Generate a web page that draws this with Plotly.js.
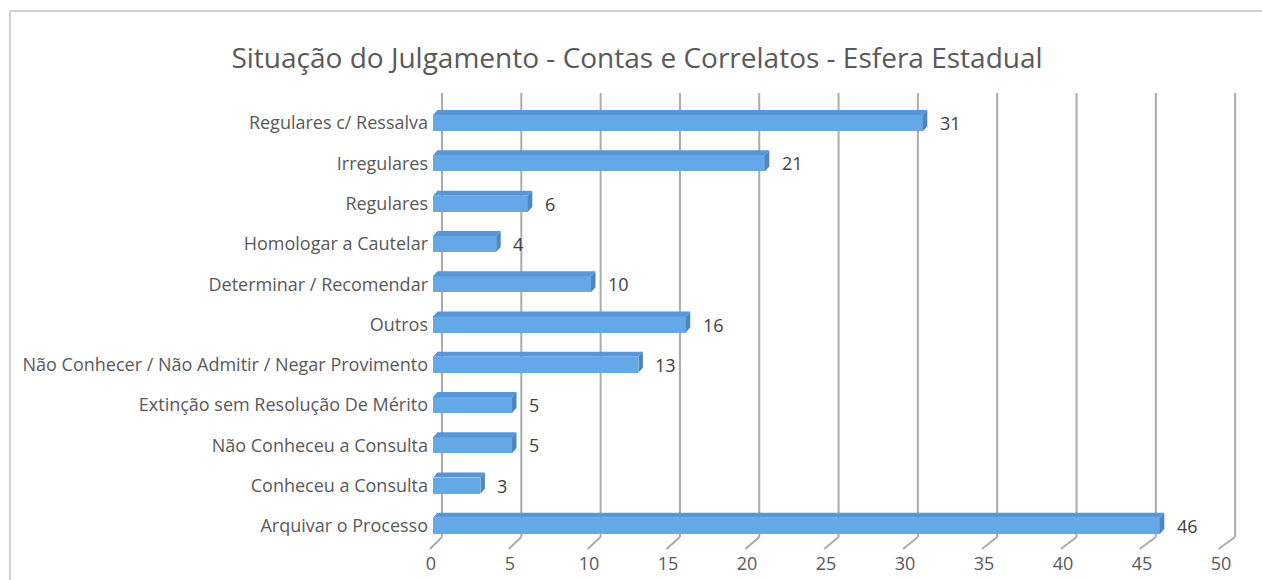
<!DOCTYPE html>
<html>
<head>
<meta charset="utf-8">
<script src="https://cdn.plot.ly/plotly-3.0.1.min.js"></script>
<style>html,body{margin:0;padding:0;background:#fff;overflow:hidden;}#chart{width:1262px;height:580px;position:relative;}</style>
</head>
<body>
<div id="chart"></div>
<script>
// Data (top to bottom as in the chart)
var categories = [
  "Regulares c/ Ressalva",
  "Irregulares",
  "Regulares",
  "Homologar a Cautelar",
  "Determinar / Recomendar",
  "Outros",
  "Não Conhecer / Não Admitir / Negar Provimento",
  "Extinção sem Resolução De Mérito",
  "Não Conheceu a Consulta",
  "Conheceu a Consulta",
  "Arquivar o Processo"
];
var values = [31, 21, 6, 4, 10, 16, 13, 5, 5, 3, 46];
var xTicks = [0, 5, 10, 15, 20, 25, 30, 35, 40, 45, 50];
var chartTitle = "Situação do Julgamento - Contas e Correlatos - Esfera Estadual";

// Geometry helpers (pixel layout)
var W = 1262, H = 580;
var mL = 433, mR = 39, mT = 103, mB = 34;
var pw = W - mL - mR, ph = H - mT - mB;
var xMax = 50;
var pxPerUnit = pw / xMax;
var pxPerCat = ph / categories.length;
function px2paperX(px){ return (px - mL) / pw; }
function py2paperY(py){ return (H - mB - py) / ph; }

var FONT = '"Open Sans", "Noto Sans", sans-serif';

var idx = categories.map(function(_, i){ return i; });
var half = 0.2;              // half bar thickness (category units)
var dx = 4.5 / pxPerUnit;    // depth offset in x data units
var dy = 5 / pxPerCat;       // depth offset in y category units

// top faces and end faces polygons derived from values
var topX = [], topY = [], endX = [], endY = [];
values.forEach(function(v, i){
  var yt = i - half;
  topX.push(0, v, v + dx, dx, 0, null);
  topY.push(yt, yt, yt - dy, yt - dy, yt, null);
  endX.push(v, v + dx, v + dx, v, v, null);
  endY.push(yt, yt - dy, i + half - dy, i + half, yt, null);
});

var traces = [
  {
    type: 'bar', orientation: 'h', x: values, y: idx, width: 2 * half,
    marker: {color: '#64A8E8', line: {width: 0}}, hoverinfo: 'x+text', text: categories,
    textposition: 'none', showlegend: false
  },
  {
    type: 'scatter', mode: 'lines', x: topX, y: topY, fill: 'toself',
    fillcolor: '#5A96D4', line: {width: 0, color: '#5A96D4'}, hoverinfo: 'skip', showlegend: false
  },
  {
    type: 'scatter', mode: 'lines', x: endX, y: endY, fill: 'toself',
    fillcolor: '#4D86C3', line: {width: 0, color: '#4D86C3'}, hoverinfo: 'skip', showlegend: false
  }
];

// back-wall gridlines and floor diagonals
var shapes = [];
var backOffPx = 9, gridTop = 93, backFloor = 537, frontFloor = 549, frontOffPx = -3;
xTicks.forEach(function(t){
  var bx = mL + backOffPx + t * pxPerUnit * 1.004;
  var fx = mL + frontOffPx + t * pxPerUnit * 0.998;
  shapes.push({type: 'line', xref: 'paper', yref: 'paper', layer: 'below',
    x0: px2paperX(bx), x1: px2paperX(bx), y0: py2paperY(backFloor), y1: py2paperY(gridTop),
    line: {color: '#ABABAB', width: 2}});
  shapes.push({type: 'line', xref: 'paper', yref: 'paper', layer: 'below',
    x0: px2paperX(fx), x1: px2paperX(bx), y0: py2paperY(frontFloor), y1: py2paperY(backFloor),
    line: {color: '#ABABAB', width: 2}});
});
// chart border (top and left edges only are visible)
shapes.push({type: 'line', xref: 'paper', yref: 'paper', layer: 'above',
  x0: px2paperX(10), x1: px2paperX(1262), y0: py2paperY(11), y1: py2paperY(11),
  line: {color: '#D0D0D0', width: 2}});
shapes.push({type: 'line', xref: 'paper', yref: 'paper', layer: 'above',
  x0: px2paperX(10), x1: px2paperX(10), y0: py2paperY(11), y1: py2paperY(580),
  line: {color: '#D0D0D0', width: 2}});

var annotations = values.map(function(v, i){
  return {x: v, y: i, xref: 'x', yref: 'y', text: String(v), showarrow: false,
    xanchor: 'left', yanchor: 'middle', xshift: 15, yshift: 0,
    font: {family: FONT, size: 18, color: '#404040'}};
});

var layout = {
  width: W, height: H,
  margin: {l: mL, r: mR, t: mT, b: mB, pad: 0},
  paper_bgcolor: '#fff', plot_bgcolor: 'rgba(0,0,0,0)',
  font: {family: FONT, size: 18, color: '#595959'},
  title: {text: chartTitle, x: 637 / W, xref: 'container', xanchor: 'center',
    y: 1 - 58 / H, yref: 'container', yanchor: 'middle',
    font: {family: FONT, size: 28, color: '#595959'}},
  xaxis: {range: [0, xMax], tickvals: xTicks, ticks: '', showgrid: false, zeroline: false,
    showline: false, fixedrange: true, ticklabelstandoff: 5, ticklabelshift: -2,
    tickfont: {family: FONT, size: 18, color: '#595959'}},
  yaxis: {range: [categories.length - 0.5, -0.5], tickvals: idx, ticktext: categories,
    ticks: '', showgrid: false, zeroline: false, showline: false, fixedrange: true,
    ticklabelstandoff: 4,
    tickfont: {family: FONT, size: 18, color: '#595959'}},
  bargap: 0, shapes: shapes, annotations: annotations, showlegend: false
};

Plotly.newPlot('chart', traces, layout, {displayModeBar: false, responsive: false});
</script>
</body>
</html>
